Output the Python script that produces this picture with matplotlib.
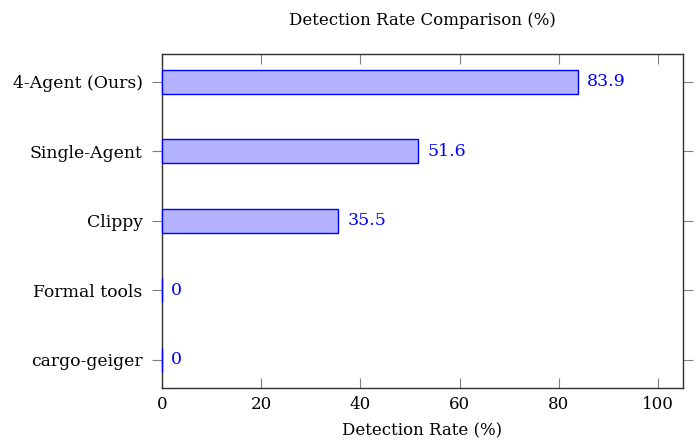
import matplotlib
matplotlib.use("Agg")
import matplotlib.pyplot as plt

categories = ["4-Agent (Ours)", "Single-Agent", "Clippy", "Formal tools", "cargo-geiger"]
values = [83.9, 51.6, 35.5, 0, 0]
value_labels = ["83.9", "51.6", "35.5", "0", "0"]
xticks = [0, 20, 40, 60, 80, 100]

plt.rcParams['font.family'] = ['DejaVu Serif']
plt.rcParams['font.size'] = 12

fig = plt.figure(figsize=(6.94, 4.46), dpi=100)
W, H = 694, 446
ax = fig.add_axes([162 / W, 1 - 387.5 / H, (683 - 162) / W, (387.5 - 54) / H])

ypos = list(range(len(categories)))
bars = ax.barh(ypos, values, height=0.345, color="#b3b3ff", edgecolor="#0000ff", linewidth=1.0, zorder=3)
for b in bars:
    b.set_clip_on(False)
for y, v, lab in zip(ypos, values, value_labels):
    ax.annotate(lab, xy=(v, y), xytext=(6.5, 0), textcoords="offset points",
                va="center", ha="left", color="#0000ff", fontsize=12.5)

ax.set_xlim(0, 105)
ax.set_ylim(4.4, -0.4)
ax.set_yticks(ypos)
ax.set_yticklabels(categories, fontsize=12.4)
ax.set_xticks(xticks)
ax.set_xticklabels([str(t) for t in xticks])

ax.tick_params(axis="x", direction="in", top=True, bottom=True, length=7.5, color="#808080", width=0.8, pad=6)
ax.tick_params(axis="y", direction="out", left=True, right=True, length=7.5, color="#808080", width=0.8, pad=6.5)
for s in ax.spines.values():
    s.set_color("#303030")
    s.set_linewidth(1.0)

ax.set_title("Detection Rate Comparison (%)", fontsize=12, pad=21)
ax.set_xlabel("Detection Rate (%)", fontsize=12, labelpad=7)

fig.savefig("out.png", dpi=100)
